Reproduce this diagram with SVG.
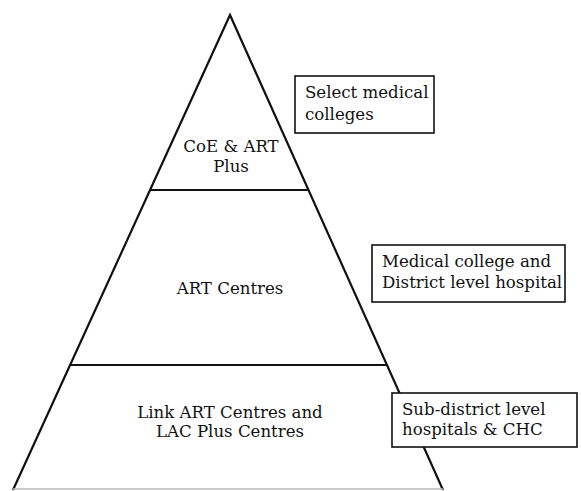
<svg xmlns="http://www.w3.org/2000/svg" width="581" height="491" viewBox="0 0 581 491">
<style>
.t{font-family:"DejaVu Serif","Liberation Serif",serif;font-size:16.6px;fill:#111}
.c{text-anchor:middle}
.ln{stroke:#111;stroke-width:2.2;fill:none}
.bx{stroke:#111;stroke-width:1.6;fill:#fff}
</style>
<rect width="581" height="491" fill="#fff"/>
<g id="connectors">
<path class="ln" d="M13,490 L230,15 L443,490"/>
<line class="ln" x1="151" y1="190" x2="308" y2="190"/>
<line class="ln" x1="71" y1="365" x2="386" y2="365"/>
<line x1="13" y1="489" x2="443" y2="489" stroke="#bbb" stroke-width="1.5"/>
</g>
<g id="tier1">
<text class="t c" x="231" y="152">CoE &amp; ART</text>
<text class="t c" x="231" y="172">Plus</text>
</g>
<g id="tier2">
<text class="t c" x="230" y="294">ART Centres</text>
</g>
<g id="tier3">
<text class="t c" x="230" y="418">Link ART Centres and</text>
<text class="t c" x="230" y="437">LAC Plus Centres</text>
</g>
<g id="box1">
<rect class="bx" x="295" y="76" width="139" height="57"/>
<text class="t" x="305" y="98">Select medical</text>
<text class="t" x="305" y="120">colleges</text>
</g>
<g id="box2">
<rect class="bx" x="372" y="245" width="193" height="57"/>
<text class="t" x="382" y="267">Medical college and</text>
<text class="t" x="382" y="288">District level hospital</text>
</g>
<g id="box3">
<rect class="bx" x="392" y="393" width="185" height="54"/>
<text class="t" x="402" y="415">Sub-district level</text>
<text class="t" x="402" y="435">hospitals &amp; CHC</text>
</g>
</svg>
